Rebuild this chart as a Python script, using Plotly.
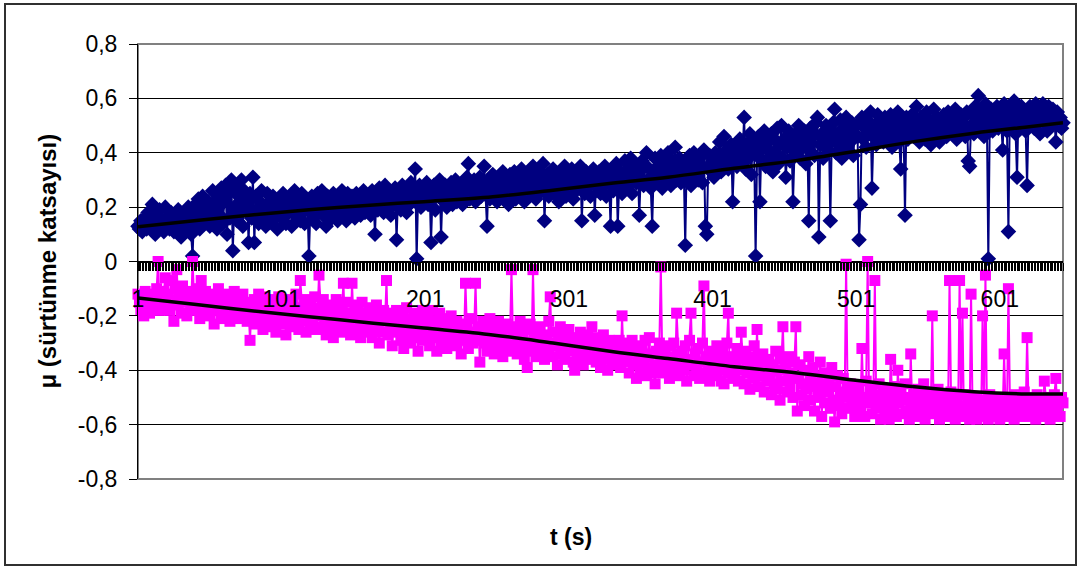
import plotly.graph_objects as go

# ---- data (hundredths of the friction coefficient) ----
blue_raw = [
13,12,15,11,14,16,12,18,13,15,21,14,10,12,17,19,13,15,11,20,
14,16,12,18,15,11,17,13,19,15,9,14,18,12,16,20,13,10,2,17,
21,15,23,12,18,24,14,20,16,22,13,19,26,15,21,12,24,17,27,14,
22,28,10,25,16,30,4,20,27,15,24,18,30,13,26,19,22,7,25,16,
31,7,24,19,14,22,26,16,20,13,25,18,22,15,24,17,21,12,23,19,
16,25,20,14,22,18,24,13,21,26,17,19,23,15,25,18,14,22,20,2,
19,24,16,21,14,25,18,22,26,17,20,13,24,19,22,16,25,18,21,15,
23,19,26,17,21,15,25,20,18,24,22,16,25,19,23,17,21,26,18,22,
20,24,17,26,22,10,25,19,27,21,24,18,28,22,20,26,17,24,21,27,
8,23,26,19,28,22,25,18,27,21,29,23,26,34,1,24,28,20,26,22,
25,29,21,27,7,23,28,19,26,24,30,9,25,22,28,20,27,24,29,21,
26,30,22,28,24,27,21,29,25,31,36,23,28,26,30,22,27,25,31,24,
28,35,26,13,30,23,27,32,25,29,22,31,26,28,33,24,30,27,21,32,
25,29,33,23,31,27,24,34,28,22,30,26,32,25,29,35,27,23,31,28,
33,26,36,15,29,32,24,30,27,34,25,31,28,22,33,26,30,35,24,29,
31,27,34,23,29,26,32,28,35,15,30,25,33,27,31,24,29,34,17,30,
27,33,25,31,28,35,24,32,29,13,34,26,30,36,13,28,33,25,31,37,
27,34,30,38,25,32,36,29,33,17,31,37,28,35,40,30,34,27,13,33,
38,29,35,31,39,27,33,36,30,40,34,28,37,32,42,30,35,38,29,36,
33,6,37,31,39,28,35,40,32,36,30,38,34,29,41,13,10,35,39,33,
37,31,40,35,39,44,33,38,46,36,41,34,39,43,22,37,42,35,40,45,
36,41,53,34,43,38,47,32,44,40,2,39,46,22,42,37,48,35,44,41,
38,47,33,45,40,49,36,43,50,38,45,31,42,48,37,44,22,39,47,41,
50,38,45,42,48,36,44,15,49,40,46,39,51,53,9,43,47,38,45,50,
41,48,15,44,51,56,40,47,43,52,38,49,45,53,41,48,44,51,39,47,
50,46,8,21,53,45,49,42,52,47,55,27,46,50,43,54,48,45,51,44,
53,47,50,45,54,42,49,52,46,55,44,34,50,48,17,53,45,51,47,54,
46,52,57,49,44,53,48,51,45,55,47,52,43,50,56,46,53,49,44,52,
48,54,50,46,55,49,53,47,51,56,45,52,50,54,48,53,46,55,37,35,
50,54,47,57,52,61,49,55,51,46,58,53,1,50,56,48,54,52,57,49,
55,51,41,58,53,48,11,56,50,54,59,47,31,55,52,57,50,54,48,28,
53,57,50,55,49,58,52,56,47,54,58,51,55,48,57,53,50,56,52,44,
55,50,53,49,51,
]

pink_raw = [
-12,-15,-18,-14,-20,-11,-16,-13,-19,-15,-12,-17,-14,-10,0,-18,-13,-16,-11,-6,
-15,-12,-18,-7,-14,-22,-10,-3,-16,-13,-19,-9,-15,-12,-20,-14,-11,-17,0,-13,
-18,-10,-15,-21,-7,-13,-19,-11,-16,-14,-20,-12,-17,-23,-13,-18,-10,-15,-21,-14,
-17,-12,-19,-15,-22,-13,-18,-11,-20,-16,-14,-21,-17,-12,-19,-15,-22,-18,-29,-16,
-20,-14,-23,-17,-12,-21,-16,-25,-13,-19,-22,-15,-24,-18,-14,-21,-26,-17,-13,-20,
-23,-16,-19,-27,-14,-21,-18,-24,-15,-22,-12,-19,-25,-7,-17,-22,-14,-26,-18,-21,
-15,-23,-19,-13,-25,-20,-5,-17,-24,-14,-21,-27,-18,-22,-16,-25,-28,-19,-14,-23,
-20,-26,-17,-8,-22,-15,-24,-19,-27,-8,-21,-16,-25,-18,-23,-28,-15,-21,-26,-19,
-24,-17,-22,-28,-19,-25,-16,-23,-30,-20,-26,-18,-22,-7,-27,-19,-24,-31,-21,-25,
-18,-26,-22,-29,-20,-32,-24,-17,-27,-21,-30,-23,-19,-28,-25,-33,-21,-26,-18,-29,
-23,-27,-20,-31,-25,-18,-28,-22,-33,-26,-19,-30,-24,-27,-21,-32,-25,-29,-20,-28,
-24,-31,-22,-29,-26,-34,-23,-28,-8,-25,-32,-27,-21,-30,-26,-8,-29,-24,-37,-27,
-22,-30,-25,-33,-28,-21,-31,-26,-34,-24,-29,-22,-32,-27,-35,-25,-30,-23,-33,-28,
-3,-26,-31,-24,-34,-29,-22,-32,-27,-36,-25,-39,-30,-23,-33,-3,-28,-35,-26,-31,
-24,-33,-29,-36,-27,-32,-22,-13,-30,-35,-26,-31,-38,-28,-24,-34,-29,-36,-27,-32,
-25,-33,-30,-37,-40,-28,-35,-31,-26,-34,-38,-29,-33,-27,-36,-31,-24,-35,-30,-37,
-28,-34,-39,-31,-27,-36,-33,-40,-29,-35,-31,-38,-30,-36,-33,-29,-39,-20,-35,-32,
-37,-30,-41,-34,-29,-38,-33,-43,-31,-36,-40,-32,-37,-29,-42,-35,-28,-39,-34,-41,
-45,-33,-38,-30,-2,-36,-41,-33,-39,-31,-43,-35,-38,-30,-40,-19,-34,-42,-37,-33,
-40,-31,-44,-36,-29,-19,-38,-42,-34,-39,-32,-43,-37,-30,-9,-41,-35,-38,-44,-33,
-39,-34,-42,-31,-40,-36,-44,-33,-45,-38,-30,-19,-41,-35,-43,-37,-39,-32,-44,-40,
-26,-36,-45,-33,-41,-38,-47,-35,-43,-31,-40,-25,-46,-37,-42,-34,-48,-39,-44,-36,
-42,-49,-38,-45,-33,-47,-40,-51,-36,-24,-44,-39,-48,-35,-46,-41,-50,-37,-24,-55,
-43,-38,-49,-45,-53,-40,-47,-35,-51,-44,-39,-55,-46,-42,-50,-37,-57,-45,-52,-41,
-48,-44,-54,-39,-51,-59,-46,-42,-53,-48,-56,-43,-50,-1,-47,-54,-45,-52,-49,-57,
-46,-53,-48,-55,-32,-50,-57,-44,0,-52,-47,-56,-49,-7,-54,-51,-45,-58,-50,-53,
-47,-55,-51,-58,-36,-49,-54,-46,-57,-40,-52,-48,-56,-50,-45,-55,-51,-58,-34,-53,
-49,-56,-52,-47,-57,-50,-54,-45,-58,-51,-55,-48,-53,-20,-56,-50,-54,-47,-58,-52,
-55,-49,-57,-51,-54,-7,-48,-56,-52,-58,-50,-55,-7,-53,-19,-57,-49,-54,-51,-58,
-12,-53,-56,-50,-58,-54,-51,-57,-20,-55,-5,-52,-58,-49,-56,-53,-57,-50,-55,-52,
-58,-51,-56,-34,-53,-57,-10,-50,-55,-52,-58,-49,-56,-53,-57,-51,-54,-48,-56,-28,
-52,-57,-50,-55,-53,-58,-49,-56,-52,-54,-57,-44,-51,-55,-50,-58,-53,-56,-49,-43,
-54,-51,-57,-50,-52,
]

# trend lines (read at a few categories)
trend_x = [1, 40, 80, 120, 165, 200, 248, 290, 332, 370, 416, 460, 499, 540, 583, 620, 645]
blue_trend = [0.128, 0.15, 0.171, 0.19, 0.208, 0.22, 0.238, 0.262, 0.289, 0.31, 0.343, 0.372, 0.404, 0.44, 0.472, 0.495, 0.51]
pink_trend = [-0.134, -0.157, -0.181, -0.203, -0.227, -0.245, -0.27, -0.30, -0.332, -0.357, -0.387, -0.41, -0.436, -0.46, -0.479, -0.487, -0.487]

x_ticks = [1, 101, 201, 301, 401, 501, 601]
x_ticktext = ["1", "101", "201", "301", "401", "501", "601"]
y_ticks = [-0.8, -0.6, -0.4, -0.2, 0, 0.2, 0.4, 0.6, 0.8]
y_ticktext = ["-0,8", "-0,6", "-0,4", "-0,2", "0", "0,2", "0,4", "0,6", "0,8"]

blue = [v / 100 for v in blue_raw]
pink = [v / 100 for v in pink_raw]
xb = list(range(1, len(blue) + 1))
xp = list(range(1, len(pink) + 1))

FONT = "Arial, Liberation Sans, sans-serif"

fig = go.Figure()
fig.add_trace(go.Scatter(
    x=xb, y=blue, mode="lines+markers",
    line=dict(color="#000080", width=2),
    marker=dict(symbol="diamond", size=12, color="#000080"),
    cliponaxis=False, showlegend=False))
fig.add_trace(go.Scatter(
    x=xp, y=pink, mode="lines+markers",
    line=dict(color="#FF00FF", width=2),
    marker=dict(symbol="square", size=11, color="#FF00FF"),
    cliponaxis=False, showlegend=False))
fig.add_trace(go.Scatter(
    x=trend_x, y=blue_trend, mode="lines",
    line=dict(color="black", width=3.5, shape="spline"),
    showlegend=False, hoverinfo="skip"))
fig.add_trace(go.Scatter(
    x=trend_x, y=pink_trend, mode="lines",
    line=dict(color="black", width=3.5, shape="spline"),
    showlegend=False, hoverinfo="skip"))

fig.update_layout(
    width=1083, height=567,
    margin=dict(l=138, r=20, t=44, b=88),
    paper_bgcolor="white", plot_bgcolor="white",
    font=dict(family=FONT, size=23, color="black"),
    xaxis=dict(
        range=[1, 645], type="linear",
        anchor="free", position=0.5,
        showline=True, linecolor="black", linewidth=1,
        showgrid=False, zeroline=False,
        tickmode="array", tickvals=x_ticks, ticktext=x_ticktext,
        ticks="outside", ticklen=8, tickcolor="black", tickwidth=1,
        ticklabelstandoff=9,
        tickfont=dict(size=23),
        minor=dict(tickmode="linear", tick0=1, dtick=1, ticks="outside",
                   ticklen=8, tickcolor="black", tickwidth=1, showgrid=False),
    ),
    yaxis=dict(
        range=[-0.8, 0.8],
        showline=True, linecolor="black", linewidth=1,
        showgrid=True, gridcolor="black", gridwidth=1,
        zeroline=False,
        tickmode="array", tickvals=y_ticks, ticktext=y_ticktext,
        ticks="outside", ticklen=8, tickcolor="black",
        ticklabelstandoff=7,
        tickfont=dict(size=23),
    ),
    shapes=[
        dict(type="rect", xref="paper", yref="paper", x0=0, x1=1, y0=0, y1=1,
             line=dict(color="#808080", width=2), layer="below"),
        dict(type="rect", xref="paper", yref="paper",
             x0=(5 - 138) / 925, x1=(1076 - 138) / 925,
             y0=(479 - 565) / 435, y1=(479 - 4) / 435,
             line=dict(color="#303030", width=2), layer="below"),
    ],
    annotations=[
        dict(text="<b>μ (sürtünme katsayısı)</b>", xref="paper", yref="paper",
             x=(47 - 138) / 925, y=0.5, textangle=-90, showarrow=False,
             xanchor="center", yanchor="middle", font=dict(size=24)),
        dict(text="<b>t (s)</b>", xref="paper", yref="paper",
             x=(571 - 138) / 925, y=(479 - 537) / 435, showarrow=False,
             xanchor="center", yanchor="middle", font=dict(size=23)),
    ],
)

fig.write_html("out.html")
